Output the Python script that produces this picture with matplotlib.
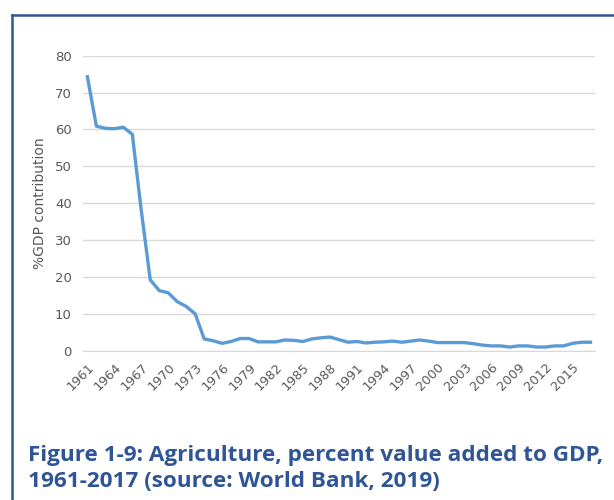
import matplotlib.pyplot as plt
from matplotlib.lines import Line2D

years = list(range(1961, 2018))
agri_share = [74.3, 60.9, 60.3, 60.2, 60.6, 58.7, 38.0, 19.2, 16.3, 15.7,
              13.3, 12.0, 10.0, 3.2, 2.7, 2.0, 2.5, 3.3, 3.3, 2.4,
              2.4, 2.4, 2.9, 2.8, 2.5, 3.2, 3.5, 3.7, 3.0, 2.3,
              2.5, 2.1, 2.3, 2.4, 2.6, 2.3, 2.6, 2.9, 2.6, 2.2,
              2.2, 2.2, 2.2, 1.9, 1.5, 1.3, 1.3, 1.0, 1.3, 1.3,
              1.0, 1.0, 1.3, 1.3, 2.0, 2.3, 2.3]
tick_years = list(range(1961, 2017, 3))
y_ticks = [0, 10, 20, 30, 40, 50, 60, 70, 80]

caption = ("Figure 1-9: Agriculture, percent value added to GDP,\n"
           "1961-2017 (source: World Bank, 2019)")

frame_blue = '#2F5597'
grey = '#595959'

fig = plt.figure(figsize=(6.14, 5), dpi=100)
ax = fig.add_axes([0.135, 0.2986, 0.834, 0.59])

ax.plot(years, agri_share, color='#5B9BD5', linewidth=2.4, solid_joinstyle='round')

ax.set_xlim(1960.5, 2017.5)
ax.set_ylim(0, 80)
ax.set_yticks(y_ticks)
ax.set_xticks(tick_years)
ax.set_xticklabels([str(y) for y in tick_years], rotation=45, ha='right',
                   rotation_mode='anchor', fontsize=9.3, color=grey)
ax.tick_params(axis='y', labelsize=9.5, labelcolor=grey, length=0, pad=8)
ax.tick_params(axis='x', length=0, pad=7)
ax.grid(axis='y', color='#D9D9D9', linewidth=1)
ax.set_axisbelow(True)
for side in ['top', 'right', 'left']:
    ax.spines[side].set_visible(False)
ax.spines['bottom'].set_color('#D9D9D9')
ax.set_ylabel('%GDP contribution', fontsize=10, color=grey, labelpad=6)

# outer frame (left and top edges only visible)
fig.add_artist(Line2D([0.019, 0.019], [0, 0.97], color=frame_blue, lw=1.8,
                      transform=fig.transFigure))
fig.add_artist(Line2D([0.019, 1.0], [0.97, 0.97], color=frame_blue, lw=1.8,
                      transform=fig.transFigure))

fig.text(0.046, 0.016, caption, fontsize=16.2, fontweight='bold', color=frame_blue,
         family='Open Sans', linespacing=1.34, va='bottom', ha='left')

fig.savefig('out.png', dpi=100)
